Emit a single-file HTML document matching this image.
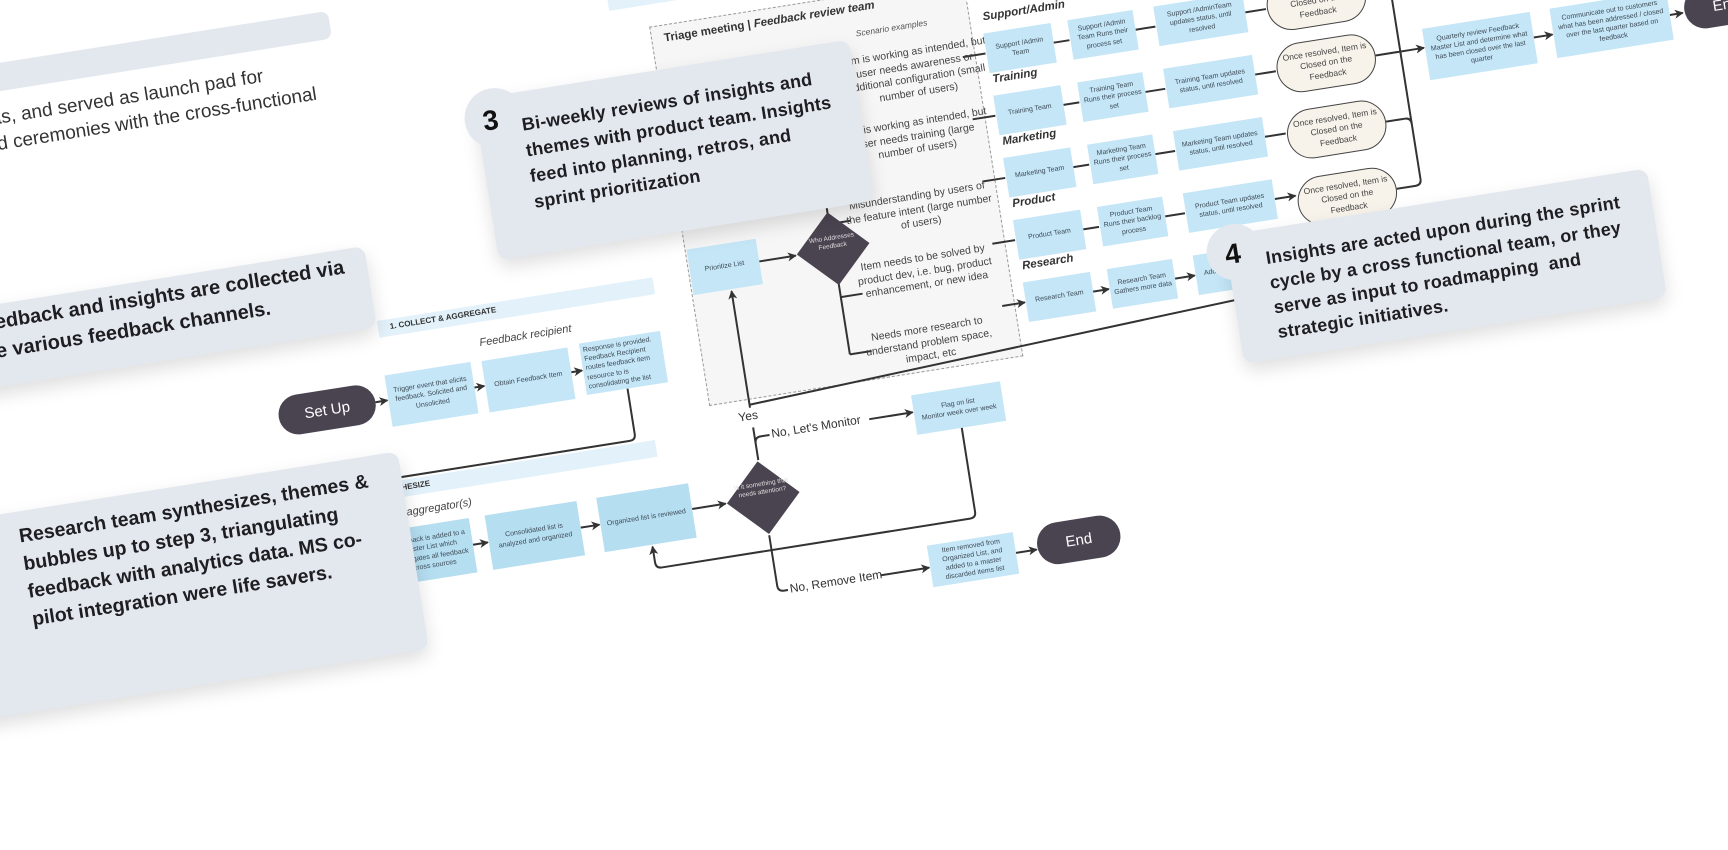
<!DOCTYPE html>
<html><head><meta charset="utf-8"><style>
html,body{margin:0;padding:0;background:#fff;width:1728px;height:588px;overflow:hidden;font-family:"Liberation Sans",sans-serif}
#w{position:absolute;left:0;top:0;width:1800px;height:800px;transform-origin:0 0;transform:rotate(-9deg)}
.a{position:absolute}
.b{position:absolute;background:#c4e6f7;display:flex;align-items:center;justify-content:center;text-align:center;font-size:7px;line-height:1.3;color:#3d4a55;box-sizing:border-box;padding:3px}
.s{background:#b5def1}
.p{position:absolute;background:#f8f3ea;border:1.6px solid #444;border-radius:26px;display:flex;align-items:center;justify-content:center;text-align:center;font-size:8.5px;line-height:1.35;color:#444;box-sizing:border-box;padding:4px}
.d{position:absolute;background:#4a4350;border-radius:22px;color:#fff;display:flex;align-items:center;justify-content:center;font-size:15px}
.dm{position:absolute;width:52px;height:52px;background:#4a4350;transform:rotate(45deg)}
.dt{position:absolute;color:#ddd;font-size:6.5px;text-align:center;line-height:1.3}
.lab{position:absolute;font-size:11.5px;font-weight:bold;font-style:italic;color:#333;white-space:nowrap}
.sc{position:absolute;width:150px;text-align:center;font-size:10.5px;line-height:13.5px;color:#444}
.card{position:absolute;background:#e3e8ef;border-radius:10px;box-shadow:0 8px 18px rgba(0,0,0,.13)}
.t{position:absolute;white-space:nowrap;color:#1e1e22}
.band{position:absolute;background:#e2f1fa}
.num{position:absolute;font-size:28px;font-weight:900;color:#111}
</style></head><body>
<div id="w">
<div class="band" style="left:600px;top:88px;width:360px;height:18px"></div>
<div class="a" style="left:637px;top:128px;width:318px;height:384px;background:#f6f6f6;border:1px dashed #999;box-sizing:border-box"></div>
<div class="a" style="left:650px;top:136px;font-size:11.5px;font-weight:bold;color:#333;white-space:nowrap">Triage meeting | <i>Feedback review team</i></div>
<div class="a" style="left:840px;top:162px;font-size:8.5px;font-style:italic;color:#555;white-space:nowrap">Scenario examples</div>

<div class="band" style="left:322px;top:376px;width:279px;height:17px"></div>
<div class="a" style="left:334px;top:379px;font-size:8px;font-weight:bold;color:#333;white-space:nowrap">1. COLLECT &amp; AGGREGATE</div>
<div class="band" style="left:270px;top:537px;width:308px;height:17px"></div>
<div class="a" style="left:290px;top:540px;font-size:8px;font-weight:bold;color:#333;white-space:nowrap">2. SYNTHESIZE</div>

<svg class="a" style="left:0;top:0;overflow:visible" width="1800" height="800">
<defs><marker id="ar" markerWidth="9" markerHeight="9" refX="8" refY="4.5" orient="auto" markerUnits="userSpaceOnUse"><path d="M0,0 L9,4.5 L0,9 L2.5,4.5z" fill="#333"/></marker></defs>
<g fill="none" stroke="#333" stroke-width="2">
<path d="M308,456 H320" marker-end="url(#ar)"/>
<path d="M408,457 H418" marker-end="url(#ar)"/>
<path d="M506,457 H517" marker-end="url(#ar)"/>
<path d="M559,482 V528 Q559,534 553,534 H280"/>
<path d="M382,612 H397" marker-end="url(#ar)"/>
<path d="M491,612 H510" marker-end="url(#ar)"/>
<path d="M604,611 H638" marker-end="url(#ar)"/>
<path d="M677,573 V540"/>
<path d="M677,520 V402" marker-end="url(#ar)"/>
<path d="M677,556 Q677,550 683,550 H692"/>
<path d="M793,550 H837" marker-end="url(#ar)"/>
<path d="M883,573 V658 Q883,664 877,664 H565 Q559,664 559,658 V642" marker-end="url(#ar)"/>
<path d="M676,649 V700 Q676,706 682,706 H686"/>
<path d="M780,706 H829" marker-end="url(#ar)"/>
<path d="M917,705 H938" marker-end="url(#ar)"/>
<path d="M709,377 H746" marker-end="url(#ar)"/>
<path d="M784,215 V483"/>
<path d="M784,215 H806 M784,278 H806 M784,351 H806 M784,425 H806 M784,483 H806"/>
<path d="M942,207 H965 M942,270 H965 M942,333 H965 M942,396 H965 M942,459 H965" marker-end="url(#ar)"/>
<path d="M1034,207 H1050 M1034,270 H1050 M1034,333 H1050 M1034,396 H1050 M1034,459 H1050" marker-end="url(#ar)"/>
<path d="M1117,207 H1137 M1117,270 H1137 M1117,333 H1137 M1117,396 H1137 M1117,459 H1137" marker-end="url(#ar)"/>
<path d="M1228,207 H1249 M1228,270 H1249 M1228,333 H1249 M1228,396 H1249" marker-end="url(#ar)"/>
<path d="M1350,207 H1375 M1350,337 H1369 Q1375,337 1375,343 M1350,405 H1369 Q1375,405 1375,399"/>
<path d="M1375,100 V399"/>
<path d="M1350,270 H1399" marker-end="url(#ar)"/>
<path d="M1509,277 H1528" marker-end="url(#ar)"/>
<path d="M1647,276 H1660" marker-end="url(#ar)"/>
<path d="M1183,479 V489 L677,517"/>
</g>
</svg>

<div class="a" style="left:662px;top:521px;font-size:12px;color:#333;background:#fff;padding:0 2px">Yes</div>
<div class="a" style="left:694px;top:542px;font-size:12px;color:#333;white-space:nowrap">No, Let's Monitor</div>
<div class="a" style="left:688px;top:698px;font-size:12px;color:#333;white-space:nowrap">No, Remove Item</div>
<div class="a" style="left:420px;top:408px;font-size:11px;font-style:italic;color:#444;white-space:nowrap">Feedback recipient</div>
<div class="a" style="left:270px;top:564px;font-size:11px;font-style:italic;color:#444;white-space:nowrap">Feedback aggregator(s)</div>

<div class="d" style="left:210px;top:436px;width:98px;height:40px">Set Up</div>
<div class="b" style="left:321px;top:431px;width:87px;height:52px">Trigger event that elicits feedback. Solicited and Unsolicited</div>
<div class="b" style="left:419px;top:432px;width:87px;height:52px">Obtain Feedback Item</div>
<div class="b" style="left:518px;top:430px;width:82px;height:52px;text-align:left">Response is provided. Feedback Recipient routes feedback item resource to is consolidating the list</div>
<div class="b s" style="left:297px;top:585px;width:85px;height:55px">Feedback is added to a Master List which aggregates all feedback across sources</div>
<div class="b s" style="left:398px;top:585px;width:93px;height:55px">Consolidated list is analyzed and organized</div>
<div class="b s" style="left:511px;top:585px;width:93px;height:55px">Organized list is reviewed</div>
<div class="dm" style="left:650px;top:585px"></div>
<div class="dt" style="left:646px;top:594px;width:60px">Is it something that needs attention?</div>
<div class="b" style="left:838px;top:533px;width:90px;height:40px">Flag on list<br>Monitor week over week</div>
<div class="b" style="left:830px;top:684px;width:87px;height:42px">Item removed from Organized List, and added to a master discarded items list</div>
<div class="d" style="left:939px;top:681px;width:84px;height:42px">End</div>

<div class="b" style="left:639px;top:354px;width:70px;height:46px">Prioritize List</div>
<div class="dm" style="left:758px;top:350px"></div>
<div class="dt" style="left:754px;top:362px;width:60px">Who Addresses Feedback</div>
<div class="sc" style="left:818px;top:188px">Item is working as intended, but user needs awareness or additional configuration (small number of users)</div>
<div class="sc" style="left:808px;top:258px">Item is working as intended, but user needs training (large number of users)</div>
<div class="sc" style="left:800px;top:331px">Misunderstanding by users of the feature intent (large number of users)</div>
<div class="sc" style="left:796px;top:393px">Item needs to be solved by product dev, i.e. bug, product enhancement, or new idea</div>
<div class="sc" style="left:789px;top:464px">Needs more research to understand problem space, impact, etc</div>

<div class="lab" style="left:968px;top:165px">Support/Admin</div>
<div class="lab" style="left:968px;top:228px">Training</div>
<div class="lab" style="left:968px;top:291px">Marketing</div>
<div class="lab" style="left:968px;top:354px">Product</div>
<div class="lab" style="left:968px;top:417px">Research</div>

<div class="b" style="left:966px;top:187px;width:68px;height:40px">Support /Admin Team</div>
<div class="b" style="left:1051px;top:187px;width:66px;height:40px">Support /Admin Team Runs their process set</div>
<div class="b" style="left:1138px;top:187px;width:90px;height:40px">Support /AdminTeam updates status, until resolved</div>
<div class="p" style="left:1250px;top:182px;width:100px;height:50px">Once resolved, Item is Closed on the Feedback</div>

<div class="b" style="left:966px;top:250px;width:68px;height:40px">Training Team</div>
<div class="b" style="left:1051px;top:250px;width:66px;height:40px">Training Team Runs their process set</div>
<div class="b" style="left:1138px;top:250px;width:90px;height:40px">Training Team updates status, until resolved</div>
<div class="p" style="left:1250px;top:245px;width:100px;height:50px">Once resolved, Item is Closed on the Feedback</div>

<div class="b" style="left:966px;top:313px;width:68px;height:40px">Marketing Team</div>
<div class="b" style="left:1051px;top:313px;width:66px;height:40px">Marketing Team Runs their process set</div>
<div class="b" style="left:1138px;top:313px;width:90px;height:40px">Marketing Team updates status, until resolved</div>
<div class="p" style="left:1250px;top:312px;width:100px;height:50px">Once resolved, Item is Closed on the Feedback</div>

<div class="b" style="left:966px;top:376px;width:68px;height:40px">Product Team</div>
<div class="b" style="left:1051px;top:376px;width:66px;height:40px">Product Team Runs their backlog process</div>
<div class="b" style="left:1138px;top:376px;width:90px;height:40px">Product Team updates status, until resolved</div>
<div class="p" style="left:1250px;top:380px;width:100px;height:50px">Once resolved, Item is Closed on the Feedback</div>

<div class="b" style="left:966px;top:439px;width:68px;height:40px">Research Team</div>
<div class="b" style="left:1051px;top:439px;width:66px;height:40px">Research Team Gathers more data</div>
<div class="b" style="left:1138px;top:439px;width:90px;height:40px">Add to Product Backlog</div>

<div class="b" style="left:1400px;top:251px;width:109px;height:52px">Quarterly review Feedback Master List and determine what has been closed over the last quarter</div>
<div class="b" style="left:1529px;top:251px;width:118px;height:50px">Communicate out to customers what has been addressed / closed over the last quarter based on feedback</div>
<div class="d" style="left:1662px;top:253px;width:84px;height:42px">End</div>

<div class="a" style="left:-250px;top:62px;width:572px;height:28px;background:#e3e8ef;border-radius:0 8px 8px 0"></div>
<div class="t" style="left:-352px;top:104px;width:600px;text-align:right;font-size:19px;line-height:26px;color:#333">new ideas, and served as launch pad for</div>
<div class="t" style="left:-302px;top:130px;width:600px;text-align:right;font-size:19px;line-height:26px;color:#333">rituals and ceremonies with the cross-functional</div>

<div class="card" style="left:-250px;top:300px;width:571px;height:82px"></div>
<div class="t" style="left:-302px;top:305px;width:600px;text-align:right;font-size:20px;line-height:26px;font-weight:600">Feedback and insights are collected via</div>
<div class="t" style="left:-381px;top:334px;width:600px;text-align:right;font-size:20px;line-height:26px;font-weight:600">the various feedback channels.</div>

<div class="card" style="left:-250px;top:508px;width:572px;height:200px"></div>
<div class="t" style="left:-65px;top:519px;font-size:19.5px;line-height:28px;font-weight:600">Research team synthesizes, themes &amp;<br>bubbles up to step 3, triangulating<br>feedback with analytics data. MS co-<br>pilot integration were life savers.</div>

<div class="card" style="left:452px;top:172px;width:380px;height:163px"></div>
<div class="a" style="left:440px;top:164px;width:60px;height:60px;border-radius:50%;background:#e3e8ef"></div>
<div class="num" style="left:458px;top:180px">3</div>
<div class="t" style="left:496px;top:192px;font-size:18px;line-height:26px;font-weight:600;letter-spacing:.2px">Bi-weekly reviews of insights and<br>themes with product team. Insights<br>feed into planning, retros, and<br>sprint prioritization</div>

<div class="card" style="left:1172px;top:424px;width:428px;height:130px"></div>
<div class="a" style="left:1152px;top:414px;width:56px;height:56px;border-radius:50%;background:#e3e8ef"></div>
<div class="num" style="left:1170px;top:428px">4</div>
<div class="t" style="left:1210px;top:441px;font-size:18px;line-height:25px;font-weight:600;letter-spacing:.2px">Insights are acted upon during the sprint<br>cycle by a cross functional team, or they<br>serve as input to roadmapping&nbsp; and<br>strategic initiatives.</div>
</div>
</body></html>
